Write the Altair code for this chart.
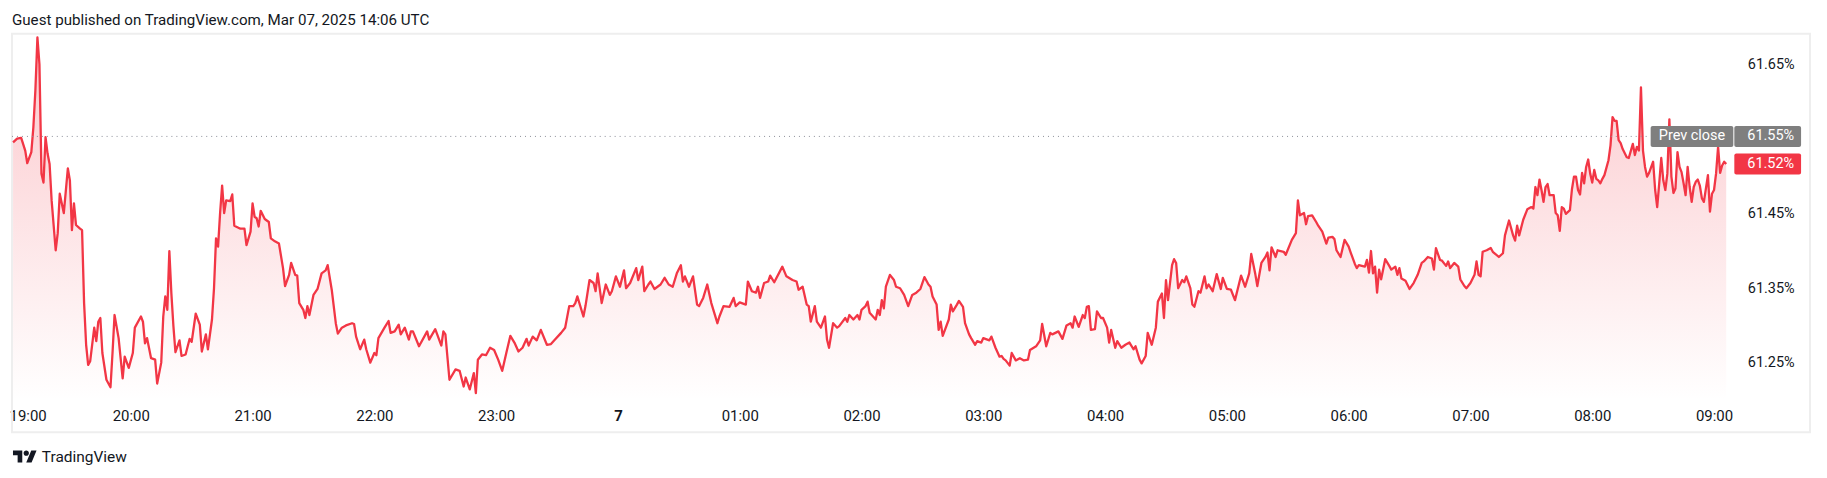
import altair as alt
import pandas as pd

TITLE = "Guest published on TradingView.com, Mar 07, 2025 14:06 UTC"
BRAND = "TradingView"
PREV_LABEL = "Prev close"

# minutes after 2025-03-06 19:00 UTC and the value read at that minute (%)
MIN_A = [2, 4, 6, 8, 9, 11, 12, 13, 14, 15, 16, 17, 18, 19, 20, 21, 23, 24, 25, 27, 29, 30, 31, 32, 33, 35, 36, 37, 38, 39,
         40, 42, 43, 44, 45, 46, 48, 50, 51, 52, 54, 56, 57, 59, 61, 62, 65, 66, 67, 68, 70, 72, 73, 75, 76, 77, 78, 79, 80,
         81, 82, 84, 85, 87, 89, 90, 92, 94, 95, 97, 98, 100, 101, 102, 103, 104, 105, 106, 107, 109, 110, 111, 114, 116,
         117, 119, 120, 121, 122, 123, 124, 126, 128, 129, 131, 133, 135, 136, 138, 139, 141, 142, 143, 145, 146, 147, 148,
         150, 152, 154, 156, 157, 159, 161, 162, 164, 166, 169, 170, 171, 173, 175, 176, 178, 180, 181, 182, 185, 187, 188, 190]
VAL_A = [61.546, 61.551, 61.552, 61.535, 61.518, 61.533, 61.566, 61.616, 61.687, 61.651, 61.504, 61.492, 61.553, 61.531,
         61.517, 61.468, 61.401, 61.424, 61.477, 61.451, 61.511, 61.495, 61.428, 61.464, 61.435, 61.430, 61.428, 61.330,
         61.274, 61.247, 61.252, 61.297, 61.279, 61.305, 61.310, 61.263, 61.227, 61.217, 61.263, 61.314, 61.283, 61.229,
         61.258, 61.243, 61.263, 61.297, 61.312, 61.305, 61.276, 61.283, 61.256, 61.254, 61.222, 61.250, 61.312, 61.339,
         61.321, 61.400, 61.343, 61.299, 61.264, 61.280, 61.259, 61.261, 61.282, 61.278, 61.316, 61.301, 61.265, 61.288,
         61.268, 61.308, 61.350, 61.417, 61.406, 61.451, 61.488, 61.451, 61.468, 61.467, 61.476, 61.434, 61.430, 61.430,
         61.408, 61.426, 61.464, 61.446, 61.444, 61.433, 61.454, 61.443, 61.439, 61.417, 61.413, 61.410, 61.377, 61.353,
         61.368, 61.384, 61.368, 61.367, 61.330, 61.321, 61.310, 61.326, 61.314, 61.341, 61.349, 61.370, 61.374, 61.381,
         61.348, 61.303, 61.289, 61.297, 61.300, 61.303, 61.302, 61.285, 61.268, 61.281, 61.268, 61.250, 61.263, 61.260,
         61.283, 61.297, 61.306, 61.290, 61.292]

MIN_B = [192, 193, 195, 197, 198, 199, 202, 206, 207, 210, 213, 214, 215, 217, 220, 222, 224, 225, 227, 229, 230, 231, 233,
         235, 237, 239, 241, 243, 245, 247, 249, 251, 253, 255, 256, 258, 260, 262, 265, 267, 269, 272, 274, 276, 278, 279,
         280, 283, 284, 286, 288, 289, 290, 292, 294, 296, 297, 299, 301, 303, 304, 306, 309, 310, 312, 313, 315, 316, 318,
         321, 323, 325, 327, 329, 331, 332, 333, 335, 337, 339, 340, 342, 344, 346, 349, 350, 352, 355, 357, 358, 360, 363,
         364, 366, 368, 369, 370, 372, 374, 375, 377, 381, 383, 386, 388]
VAL_B = [61.301, 61.288, 61.297, 61.281, 61.292, 61.292, 61.272, 61.292, 61.281, 61.295, 61.273, 61.292, 61.288, 61.227,
         61.241, 61.239, 61.218, 61.230, 61.214, 61.236, 61.209, 61.254, 61.261, 61.260, 61.270, 61.267, 61.254, 61.239,
         61.263, 61.286, 61.277, 61.265, 61.270, 61.282, 61.273, 61.285, 61.280, 61.294, 61.274, 61.275, 61.281, 61.290,
         61.297, 61.326, 61.326, 61.330, 61.339, 61.312, 61.326, 61.361, 61.357, 61.346, 61.370, 61.330, 61.355, 61.341,
         61.346, 61.366, 61.352, 61.374, 61.350, 61.357, 61.377, 61.361, 61.379, 61.346, 61.355, 61.359, 61.349, 61.355,
         61.364, 61.355, 61.352, 61.370, 61.381, 61.359, 61.366, 61.352, 61.366, 61.328, 61.326, 61.337, 61.355, 61.330,
         61.303, 61.312, 61.326, 61.325, 61.337, 61.326, 61.331, 61.328, 61.359, 61.346, 61.344, 61.352, 61.337, 61.357,
         61.359, 61.367, 61.358, 61.379, 61.366, 61.361, 61.359]

MIN_C = [389, 391, 393, 394, 395, 397, 398, 400, 402, 403, 404, 406, 408, 409, 412, 413, 414, 416, 418, 419, 420, 422, 423,
         424, 427, 428, 429, 430, 431, 432, 434, 436, 437, 439, 441, 443, 445, 447, 449, 451, 453, 454, 455, 457, 458, 459,
         460, 463, 464, 465, 467, 468, 470, 471, 473, 474, 476, 477, 479, 480, 483, 484, 486, 488, 489, 490, 491, 493, 494,
         496, 498, 500, 502, 503, 506, 508, 509, 511, 513, 514, 517, 519, 521, 523, 524, 525, 527, 529, 530, 531, 532, 533,
         535, 536, 538, 539, 541, 542, 543, 545, 546, 548, 550, 552, 554, 555, 557, 558, 560, 561, 563, 565, 566, 568, 569,
         570, 571, 573, 574, 575, 576, 578, 579, 580, 582, 583, 584]
VAL_C = [61.348, 61.352, 61.328, 61.326, 61.305, 61.326, 61.305, 61.297, 61.312, 61.281, 61.270, 61.303, 61.297, 61.299,
         61.310, 61.305, 61.314, 61.308, 61.314, 61.308, 61.321, 61.326, 61.332, 61.317, 61.308, 61.321, 61.314, 61.334,
         61.323, 61.352, 61.368, 61.361, 61.352, 61.350, 61.341, 61.326, 61.341, 61.344, 61.349, 61.365, 61.355, 61.352,
         61.339, 61.328, 61.294, 61.305, 61.286, 61.308, 61.328, 61.319, 61.328, 61.333, 61.325, 61.303, 61.288, 61.283,
         61.274, 61.279, 61.277, 61.283, 61.280, 61.285, 61.270, 61.258, 61.259, 61.255, 61.253, 61.246, 61.263, 61.253,
         61.256, 61.253, 61.254, 61.267, 61.272, 61.280, 61.302, 61.272, 61.290, 61.288, 61.292, 61.282, 61.300, 61.303,
         61.297, 61.312, 61.298, 61.314, 61.310, 61.325, 61.326, 61.294, 61.295, 61.319, 61.310, 61.310, 61.297, 61.277,
         61.294, 61.270, 61.279, 61.270, 61.274, 61.277, 61.268, 61.272, 61.254, 61.249, 61.259, 61.290, 61.274, 61.297,
         61.332, 61.343, 61.310, 61.361, 61.334, 61.381, 61.389, 61.384, 61.350, 61.361, 61.358, 61.366, 61.350, 61.328,
         61.325]

MIN_D = [586, 587, 589, 590, 591, 593, 595, 597, 598, 600, 602, 604, 607, 609, 611, 612, 614, 615, 617, 619, 620, 621, 622,
         624, 625, 628, 629, 632, 634, 635, 636, 638, 639, 640, 642, 644, 645, 647, 649, 650, 652, 653, 654, 656, 658, 660,
         661, 663, 664, 665, 668, 669, 670, 671, 672, 673, 674, 675, 676, 678, 680, 681, 683, 684, 685, 686, 688, 690, 692,
         694, 696, 697, 699, 701, 702, 703, 705, 706, 708, 709, 710, 712, 714, 715, 717, 718, 720, 722, 723, 724, 725, 726,
         728, 730, 731]
VAL_D = [61.346, 61.344, 61.366, 61.350, 61.355, 61.346, 61.369, 61.349, 61.364, 61.349, 61.348, 61.334, 61.367, 61.352,
         61.370, 61.396, 61.369, 61.353, 61.384, 61.392, 61.398, 61.374, 61.405, 61.392, 61.401, 61.399, 61.395, 61.415,
         61.424, 61.468, 61.448, 61.451, 61.436, 61.447, 61.448, 61.439, 61.434, 61.426, 61.410, 61.418, 61.419, 61.416,
         61.401, 61.392, 61.415, 61.406, 61.398, 61.383, 61.377, 61.381, 61.379, 61.388, 61.371, 61.400, 61.370, 61.379,
         61.344, 61.375, 61.362, 61.389, 61.380, 61.375, 61.379, 61.368, 61.377, 61.363, 61.360, 61.349, 61.357, 61.368,
         61.384, 61.386, 61.392, 61.390, 61.375, 61.404, 61.388, 61.387, 61.380, 61.386, 61.377, 61.384, 61.379, 61.362,
         61.353, 61.350, 61.357, 61.368, 61.386, 61.368, 61.366, 61.399, 61.401, 61.404, 61.399]

MIN_E = [734, 736, 737, 739, 741, 742, 743, 744, 746, 748, 750, 751, 752, 753, 754, 755, 756, 757, 758, 759, 761, 762, 763,
         764, 765, 766, 767, 769, 770, 771, 772, 773, 774, 775, 776, 777, 778, 779, 780, 781, 782, 783, 784, 785, 786, 788,
         789, 790, 791, 792, 793, 794, 795, 797, 798, 800, 801, 802, 803, 804, 805, 806, 807, 808, 810, 811, 812, 813, 814,
         815, 816, 817, 818, 819, 820, 821, 822, 823, 824, 825, 826, 827, 828, 829, 830, 831, 832, 833, 834, 835, 837, 838,
         839, 840, 841, 842, 843, 844, 845, 846]
VAL_E = [61.392, 61.397, 61.421, 61.441, 61.421, 61.414, 61.434, 61.421, 61.442, 61.456, 61.459, 61.457, 61.486, 61.475,
         61.496, 61.482, 61.466, 61.486, 61.490, 61.475, 61.475, 61.451, 61.448, 61.427, 61.459, 61.457, 61.450, 61.455,
         61.483, 61.500, 61.500, 61.482, 61.476, 61.505, 61.491, 61.513, 61.523, 61.504, 61.492, 61.509, 61.497, 61.495,
         61.491, 61.497, 61.502, 61.522, 61.542, 61.580, 61.575, 61.575, 61.549, 61.545, 61.537, 61.526, 61.525, 61.544,
         61.529, 61.540, 61.535, 61.620, 61.535, 61.513, 61.500, 61.505, 61.520, 61.482, 61.459, 61.491, 61.525, 61.495,
         61.482, 61.504, 61.577, 61.500, 61.478, 61.484, 61.533, 61.513, 61.506, 61.491, 61.475, 61.513, 61.486, 61.466,
         61.486, 61.493, 61.496, 61.488, 61.471, 61.466, 61.502, 61.453, 61.477, 61.482, 61.504, 61.540, 61.505, 61.515,
         61.520, 61.517]

PREV_CLOSE = 61.554
Y_TICKS = [61.25, 61.35, 61.45, 61.65]
Y_DOMAIN = [61.1993, 61.6919]
HOUR_TICKS = [(6, 19), (6, 20), (6, 21), (6, 22), (6, 23), (7, 0), (7, 1), (7, 2), (7, 3),
              (7, 4), (7, 5), (7, 6), (7, 7), (7, 8), (7, 9)]
X_DOMAIN = [(6, 19, 0), (7, 9, 10)]

RED = "#F23645"
INK = "#131722"
GREY_BOX = "#7f7f7f"
FONT = "Roboto"

LOGO = ("M-0.222,0.444H-0.611V-0.167H-1V-0.556H-0.222Z"
        "M0.556,0.444H0.111L0.528,-0.556H0.972Z"
        "M-0.111,-0.333a0.222,0.222 0 1,0 0.444,0a0.222,0.222 0 1,0 -0.444,0Z")

minutes = MIN_A + MIN_B + MIN_C + MIN_D + MIN_E
values = VAL_A + VAL_B + VAL_C + VAL_D + VAL_E
t0 = pd.Timestamp("2025-03-06 19:00:00")
times = [(t0 + pd.Timedelta(minutes=m)).strftime("%Y-%m-%dT%H:%M:%SZ") for m in minutes]
df = pd.DataFrame({"t": times, "v": values})


def dt(d, h, mi=0):
    return alt.DateTime(year=2025, month=3, date=d, hours=h, minutes=mi, utc=True)


x_axis = alt.Axis(
    values=[dt(d, h) for d, h in HOUR_TICKS],
    labelExpr="utchours(datum.value) == 0 ? toString(utcdate(datum.value)) : utcFormat(datum.value, '%H:%M')",
    labelFontWeight={"condition": {"test": "utchours(datum.value) == 0", "value": "bold"}, "value": "normal"},
    labelFlush=True, labelOverlap=False, labelBaseline="middle", labelPadding=15,
    ticks=False, tickSize=0, domain=False, grid=False,
    labelFont=FONT, labelFontSize=15, labelColor=INK, title=None,
)
y_axis = alt.Axis(
    values=Y_TICKS, orient="right",
    labelExpr="format(datum.value, '.2f') + '%'",
    labelAlign="left", labelBaseline="middle", labelPadding=13,
    ticks=False, tickSize=0, domain=False, grid=False,
    labelFont=FONT, labelFontSize=14.5, labelColor=INK, title=None,
)
x_scale = alt.Scale(type="utc", domain=[dt(*X_DOMAIN[0]), dt(*X_DOMAIN[1])], nice=False)
y_scale = alt.Scale(domain=Y_DOMAIN, zero=False, nice=False)

X = alt.X("t:T", scale=x_scale, axis=x_axis, title=None)
Y = alt.Y("v:Q", scale=y_scale, axis=y_axis, title=None)

one = pd.DataFrame({"s": [""]})

frame = alt.Chart(one).mark_rect(fill="white", fillOpacity=0, stroke="#eeeeee", strokeWidth=2).encode(
    x=alt.value(3), x2=alt.value(1808), y=alt.value(0), y2=alt.value(400))

area = alt.Chart(df).mark_area(
    color=alt.Gradient(
        gradient="linear",
        stops=[alt.GradientStop(color="rgba(242,54,69,0.28)", offset=0),
               alt.GradientStop(color="rgba(242,54,69,0.0)", offset=1)],
        x1=1, x2=1, y1=0, y2=1)
).encode(x=X, y=Y, y2=alt.datum(Y_DOMAIN[0]))

line = alt.Chart(df).mark_line(color=RED, strokeWidth=2.3, strokeJoin="round").encode(x=X, y=Y)

prev_df = pd.DataFrame({"v": [PREV_CLOSE], "name": [PREV_LABEL]})
last_df = pd.DataFrame({"v": [values[-1]]})

prev_rule = alt.Chart(prev_df).mark_rule(color="#8c8f99", strokeWidth=1, strokeDash=[1, 4]).encode(
    y=Y, x=alt.value(3), x2=alt.value(1648))
prev_box = alt.Chart(prev_df).mark_rect(color=GREY_BOX, cornerRadius=2, yOffset=-10.5, y2Offset=10.5).encode(
    y=Y, y2=alt.Y2("v:Q"), x=alt.value(1648), x2=alt.value(1731))
prev_text = alt.Chart(prev_df).mark_text(color="white", font=FONT, fontSize=14.5, align="center", baseline="middle").encode(
    y=Y, x=alt.value(1689.5), text="name:N")
prev_vbox = alt.Chart(prev_df).mark_rect(color=GREY_BOX, cornerRadius=2, yOffset=-10.5, y2Offset=10.5).encode(
    y=Y, y2=alt.Y2("v:Q"), x=alt.value(1732), x2=alt.value(1799))
prev_vtext = alt.Chart(prev_df).transform_calculate(lab="format(datum.v, '.2f') + '%'").mark_text(
    color="white", font=FONT, fontSize=14.5, align="left", baseline="middle").encode(
    y=Y, x=alt.value(1745), text="lab:N")

last_box = alt.Chart(last_df).mark_rect(color=RED, cornerRadius=2, yOffset=-10.5, y2Offset=10.5).encode(
    y=Y, y2=alt.Y2("v:Q"), x=alt.value(1732), x2=alt.value(1799))
last_text = alt.Chart(last_df).transform_calculate(lab="format(datum.v, '.2f') + '%'").mark_text(
    color="white", font=FONT, fontSize=14.5, align="left", baseline="middle").encode(
    y=Y, x=alt.value(1745), text="lab:N")

title = alt.Chart(pd.DataFrame({"s": [TITLE]})).mark_text(
    color=INK, font=FONT, fontSize=15.2, align="left", baseline="middle").encode(
    x=alt.value(3), y=alt.value(-14), text="s:N")

logo = alt.Chart(one).mark_point(shape=LOGO, size=576, filled=True, color=INK, opacity=1, strokeWidth=0).encode(
    x=alt.value(16), y=alt.value(425))
brand = alt.Chart(pd.DataFrame({"s": [BRAND]})).mark_text(
    color=INK, font=FONT, fontSize=15.5, align="left", baseline="middle").encode(
    x=alt.value(33), y=alt.value(425), text="s:N")

chart = alt.layer(
    frame, area, line, prev_rule, prev_box, prev_text, prev_vbox, prev_vtext, last_box, last_text,
    title, logo, brand
).properties(
    width=1732, height=368,
    padding={"left": 1, "top": 25, "right": 85, "bottom": 70},
    autosize=alt.AutoSizeParams(type="none"),
    background="white",
).configure_view(stroke=None)

chart.save("out.html", embed_options={"renderer": "svg", "actions": False})
